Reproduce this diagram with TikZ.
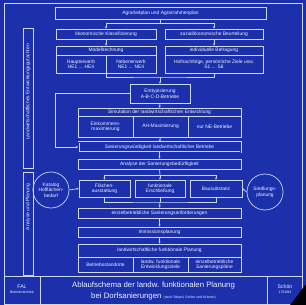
\documentclass[tikz,border=0pt]{standalone}
\usepackage{fontspec}
\setmainfont{Liberation Sans}
\usetikzlibrary{arrows.meta}
\definecolor{bg}{RGB}{28,48,172}
\definecolor{ln}{RGB}{205,215,255}
\definecolor{tx}{RGB}{238,242,255}
\newcommand{\bxfont}{\fontsize{4.9}{5.5}\selectfont}
\begin{document}
\begin{tikzpicture}[x=1pt,y=-1pt,
  bx/.style={draw=ln,line width=0.7pt,inner sep=0pt,text=tx,font=\bxfont,align=center},
  txt/.style={inner sep=0pt,text=tx,font=\bxfont,align=center},
  rnd/.style={draw=ln,line width=0.7pt,circle,inner sep=0pt,minimum size=36pt,text=tx,font=\bxfont,align=center},
  conn/.style={draw=ln,line width=0.7pt},
  arr/.style={conn,-{Stealth[length=2.2pt,width=2.2pt]}}]
\useasboundingbox (0,0) rectangle (306,305);
\fill[bg] (0,0) rectangle (306,305);
\draw[conn] (4,3) rectangle (302,304);
% bottom strip
\coordinate (sl) at (4,276); \coordinate (sr) at (302,276);
\draw[conn] (sl) -- (sr);
\draw[conn] (40,276) -- (40,304);
\draw[conn] (267,276) -- (267,304);
\node[txt,font=\fontsize{5.2}{6}\selectfont] (fal) at (22,289) {FAL\\[-1pt]{\fontsize{3.5}{4}\selectfont Betriebstechnik}};
\node[txt,font=\fontsize{7.8}{10.5}\selectfont] (tit) at (153.5,291) {Ablaufschema der landw. funktionalen Planung\\bei Dorfsanierungen {\fontsize{3.5}{4}\selectfont (nach Sittard, Schön und Krämer)}};
\node[txt,font=\fontsize{5.2}{6}\selectfont] (sch) at (285,289) {Schön\\[-1pt]{\fontsize{3.5}{4}\selectfont 178.084}};
\fill[black] (306,284) .. controls (300,292) and (295,299) .. (290,305) -- (306,305) -- cycle;
% left labels
\node[bx,minimum width=10pt,minimum height=140pt] (lab1) at (28,98) {};
\node[txt,rotate=90] (lab1t) at (28,92) {Landwirtschaftliches Entwicklungsgutachten};
\node[bx,minimum width=10pt,minimum height=103pt] (lab2) at (28,223.5) {};
\node[txt,rotate=90] (lab2t) at (28,207) {Analyse und Planung};
% top
\node[bx,minimum width=211pt,minimum height=12pt] (top) at (160.5,13) {Agrarleitplan und Agrarrahmenplan};
\node[bx,minimum width=100pt,minimum height=10pt] (okon) at (106,34) {ökonomische Klassifizierung};
\node[bx,minimum width=98pt,minimum height=10pt] (sozi) at (214,34) {sozialökonomische Beurteilung};
\node[bx,minimum width=100pt,minimum height=9pt] (modh) at (106,50.5) {Modellrechnung};
\node[bx,minimum width=50pt,minimum height=18pt] (haupt) at (81,64) {Haupterwerb\\HE1 ... HE4};
\node[bx,minimum width=50pt,minimum height=18pt] (neben) at (131,64) {Nebenerwerb\\NE1 ... NE4};
\node[bx,minimum width=98pt,minimum height=9pt] (indh) at (214,50.5) {individuelle Befragung};
\node[bx,minimum width=98pt,minimum height=18pt] (indc) at (214,64) {Hofnachfolge, persönliche Ziele usw.\\S1 ... S6};
\node[bx,minimum width=60pt,minimum height=19pt] (entt) at (160,93.5) {Enttypisierung\\A-B-C-D-Betriebe};
\node[bx,minimum width=163pt,minimum height=8pt] (simh) at (159.5,112) {Simulation der landwirtschaftlichen Entwicklung};
\node[bx,minimum width=55pt,minimum height=21pt] (eink) at (105.5,126.5) {Einkommens-\\maximierung};
\node[bx,minimum width=55pt,minimum height=21pt] (ahm) at (160.5,126.5) {AH-Maximierung};
\node[bx,minimum width=53pt,minimum height=21pt] (nur) at (214.5,126.5) {nur NE-Betriebe};
\node[bx,double=bg,double distance=0.6pt,minimum width=162pt,minimum height=10pt] (sanw) at (159.5,147) {Sanierungswürdigkeit landwirtschaftlicher Betriebe};
\node[bx,minimum width=163pt,minimum height=10pt] (anal) at (159.5,164) {Analyse der Sanierungsbedürftigkeit};
\node[bx,minimum width=51pt,minimum height=17pt] (flae) at (104.5,188.5) {Flächen-\\ausstattung};
\node[bx,minimum width=50pt,minimum height=17pt] (funk) at (160,188.5) {funktionale\\Erschließung};
\node[bx,minimum width=52pt,minimum height=17pt] (bau) at (216,188.5) {Bausubstanz};
\node[rnd] (kat) at (51,190) {Katalog\\Hofflächen-\\bedarf};
\node[rnd] (sied) at (265,192) {Siedlungs-\\planung};
\node[bx,minimum width=163pt,minimum height=10pt] (einz) at (159.5,213) {einzelbetriebliche Sanierungsanforderungen};
\node[bx,minimum width=163pt,minimum height=10pt] (immi) at (159.5,232) {Immissionsplanung};
\node[bx,minimum width=163pt,minimum height=13pt] (lfph) at (159.5,250.5) {landwirtschaftliche funktionale Planung};
\node[bx,minimum width=55pt,minimum height=15pt] (betr) at (105.5,264.5) {Betriebsstandorte};
\node[bx,minimum width=55pt,minimum height=15pt] (lfez) at (160.5,264.5) {landw. funktionale\\Entwicklungsziele};
\node[bx,minimum width=53pt,minimum height=15pt] (esp) at (214.5,264.5) {einzelbetriebliche\\Sanierungspläne};
% connectors
\coordinate (j1) at (160.5,23);
\draw[conn] (top.south) -- (j1);
\draw[arr] (j1) -| (okon.north);
\draw[arr] (j1) -| (sozi.north);
\draw[arr] (okon.south) -- (modh.north);
\draw[arr] (sozi.south) -- (indh.north);
\coordinate (j2) at (160,77);
\draw[conn] (haupt.south east) |- (j2) -| (indc.south);
\draw[arr] (j2) -- (entt.north);
\coordinate (bp) at (55,93.5);
\draw[arr] (entt.west) -- (bp) |- (sanw.west);
\draw[arr] (entt.south) -- (simh.north);
\draw[arr] (ahm.south) -- (sanw.north);
\draw[arr] (sanw.south) -- (anal.north);
\coordinate (j3) at (160,175);
\draw[conn] (anal.south) -- (j3);
\draw[arr] (j3) -| (flae.north);
\draw[arr] (j3) -- (funk.north);
\draw[arr] (j3) -| (bau.north);
\coordinate (j4) at (160,202);
\draw[conn] (flae.south) |- (j4) -| (bau.south);
\draw[conn] (funk.south) -- (j4);
\draw[arr] (j4) -- (einz.north);
\draw[arr] (kat.east) -- (flae.west);
\draw[arr] (sied.west) -- (bau.east);
\draw[arr] (einz.south) -- (immi.north);
\draw[arr] (immi.south) -- (lfph.north);
\end{tikzpicture}
\end{document}
